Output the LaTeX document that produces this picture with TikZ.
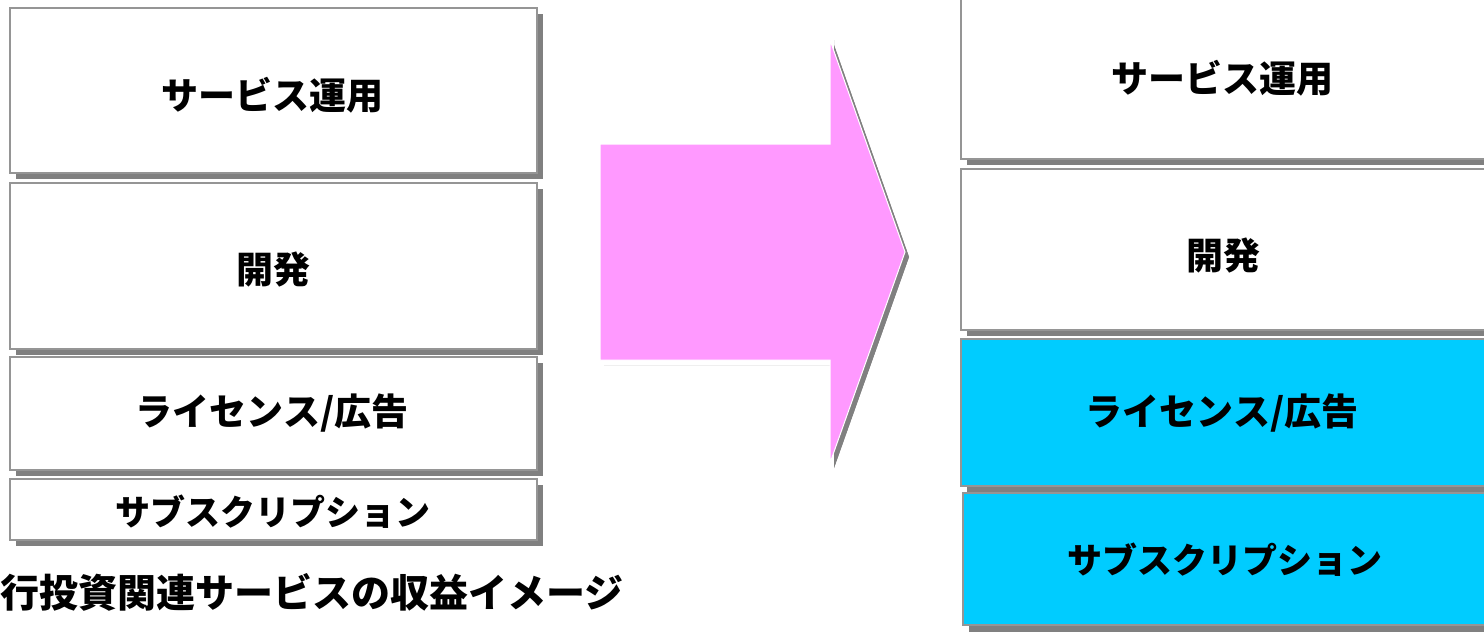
\documentclass[tikz,border=0pt]{standalone}
\usepackage{fontspec}
\newfontfamily\jp{Noto Sans CJK JP}[BoldFont={Noto Sans CJK JP Black}]
\definecolor{shadowgray}{HTML}{808080}
\definecolor{edgegray}{HTML}{959595}
\definecolor{arrowpink}{HTML}{FF99FF}
\definecolor{boxcyan}{HTML}{00CCFF}
\tikzset{
  boxshadow/.style={fill=shadowgray, draw=none},
  whitebox/.style={fill=white, draw=edgegray, line width=2pt},
  cyanbox/.style={fill=boxcyan, draw=edgegray, line width=2pt},
  lbl/.style={font=\jp\bfseries\fontsize{37}{40}\selectfont, inner sep=0pt, anchor=center},
}
\begin{document}
\begin{tikzpicture}[x=1pt,y=-1pt]
\useasboundingbox (0,0) rectangle (1484,632);
\clip (0,0) rectangle (1484,632);
% left column
\fill[boxshadow] (16,14) rectangle (543,179);
\draw[whitebox] (10,8) rectangle (537,173);
\node[lbl] (l1) at (272,95) {サービス運用};
\fill[boxshadow] (16,189) rectangle (543,355);
\draw[whitebox] (10,183) rectangle (537,349);
\node[lbl] (l2) at (273,270) {開発};
\fill[boxshadow] (16,363) rectangle (543,476);
\draw[whitebox] (10,357) rectangle (537,470);
\node[lbl] (l3) at (272,413) {ライセンス/広告};
\fill[boxshadow] (16,485) rectangle (543,546);
\draw[whitebox] (10,479) rectangle (537,540);
\node[lbl, font=\jp\bfseries\fontsize{35}{40}\selectfont] (l4) at (273,512) {サブスクリプション};
% arrow
\fill[boxshadow] (604,365) -- (834,365) -- (834,468) -- (909,257) -- (834,45) -- (834,365) -- cycle;
\fill[boxshadow] (834,45) -- (909,257) -- (834,468) -- (834,40) -- cycle;
\draw[fill=arrowpink, draw=white, line width=1pt] (600,144) -- (830,144) -- (830,40) -- (905,252) -- (830,463) -- (830,360) -- (600,360) -- cycle;
\coordinate (arrowtip) at (905,252);
% right column
\fill[boxshadow] (967,-4) rectangle (1490,165);
\draw[whitebox] (961,-10) rectangle (1486,159);
\node[lbl] (r1) at (1222,78) {サービス運用};
\fill[boxshadow] (967,175) rectangle (1490,336);
\draw[whitebox] (961,169) rectangle (1486,330);
\node[lbl] (r2) at (1223,256) {開発};
\fill[boxshadow] (967,345) rectangle (1490,492);
\draw[cyanbox] (961,339) rectangle (1486,486);
\node[lbl] (r3) at (1222,413) {ライセンス/広告};
\fill[boxshadow] (969,499) rectangle (1490,632);
\draw[cyanbox] (963,493) rectangle (1486,625);
\node[lbl, font=\jp\bfseries\fontsize{35}{40}\selectfont] (r4) at (1225,560) {サブスクリプション};
% caption
\node[lbl, anchor=west, font=\jp\bfseries\fontsize{39}{44}\selectfont] (cap) at (0,592) {行投資関連サービスの収益イメージ};
\end{tikzpicture}
\end{document}
